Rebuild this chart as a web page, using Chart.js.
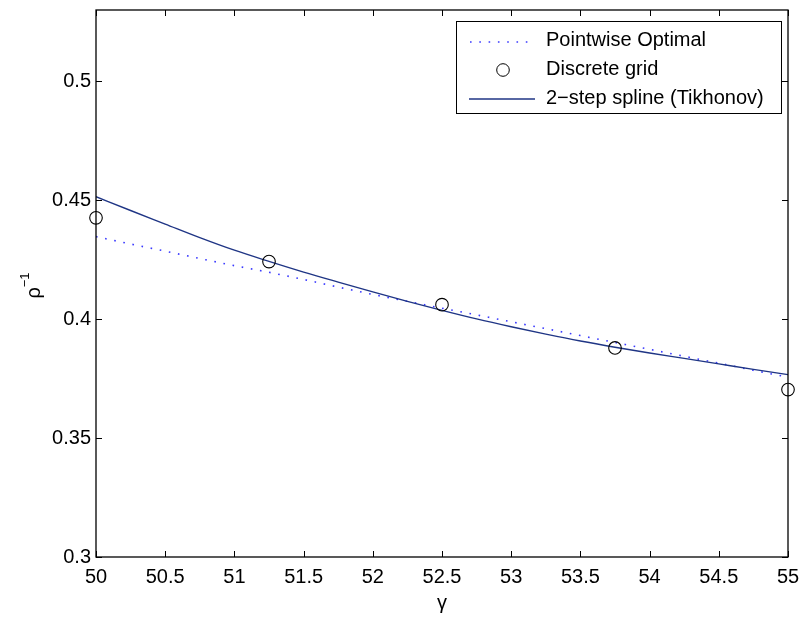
<!DOCTYPE html>
<html>
<head>
<meta charset="utf-8">
<script src="https://cdn.jsdelivr.net/npm/chart.js@4.4.0/dist/chart.umd.min.js"></script>
<style>
  html, body { margin: 0; padding: 0; background: #fff; }
  canvas { display: block; }
</style>
</head>
<body>
<canvas id="chart" width="807" height="617"></canvas>
<script>
// 데이터
var gammaFine = [50, 50.25, 50.5, 50.75, 51, 51.25, 51.5, 51.75, 52, 52.25, 52.5,
                 52.75, 53, 53.25, 53.5, 53.75, 54, 54.25, 54.5, 54.75, 55];
var pointwiseOptimal = [0.4347, 0.4316, 0.4286, 0.4255, 0.4225, 0.4197, 0.4167, 0.4135, 0.4104, 0.4075, 0.4046,
                        0.4018, 0.3989, 0.3960, 0.3931, 0.3902, 0.3873, 0.3844, 0.3815, 0.3785, 0.3756];
var splineTikhonov = [0.4515, 0.4457, 0.4400, 0.4343, 0.4290, 0.4243, 0.4198, 0.4156, 0.4115, 0.4075, 0.4037,
                      0.4001, 0.3968, 0.3937, 0.3908, 0.3882, 0.3858, 0.3835, 0.3812, 0.3789, 0.3767];
var gridGamma = [50, 51.25, 52.5, 53.75, 55];
var gridValues = [0.4426, 0.4242, 0.4061, 0.3879, 0.3704];

var xTicks = [50, 50.5, 51, 51.5, 52, 52.5, 53, 53.5, 54, 54.5, 55];
var xTickLabels = ['50', '50.5', '51', '51.5', '52', '52.5', '53', '53.5', '54', '54.5', '55'];
var yTicks = [0.3, 0.35, 0.4, 0.45, 0.5];
var yTickLabels = ['0.3', '0.35', '0.4', '0.45', '0.5'];

var FONT = '"Liberation Sans", Arial, Helvetica, sans-serif';

function toPoints(xs, ys) {
  return xs.map(function (x, i) { return { x: x, y: ys[i] }; });
}

// 축 테두리, 안쪽 눈금, 축 제목, 범례를 그리는 플러그인
var matlabFrame = {
  id: 'matlabFrame',
  afterDraw: function (chart) {
    var ctx = chart.ctx;
    var a = chart.chartArea;
    var xs = chart.scales.x, ys = chart.scales.y;
    ctx.save();
    ctx.strokeStyle = '#000';
    ctx.lineWidth = 1.3;
    ctx.strokeRect(a.left, a.top, a.right - a.left, a.bottom - a.top);

    // 눈금
    var tl = 6;
    ctx.lineWidth = 1;
    ctx.beginPath();
    xTicks.forEach(function (v) {
      var px = Math.round(xs.getPixelForValue(v)) + 0.5;
      ctx.moveTo(px, a.bottom); ctx.lineTo(px, a.bottom - tl);
      ctx.moveTo(px, a.top); ctx.lineTo(px, a.top + tl);
    });
    yTicks.forEach(function (v) {
      var py = Math.round(ys.getPixelForValue(v)) + 0.5;
      ctx.moveTo(a.left, py); ctx.lineTo(a.left + tl, py);
      ctx.moveTo(a.right, py); ctx.lineTo(a.right - tl, py);
    });
    ctx.stroke();

    // 축 제목
    ctx.fillStyle = '#000';
    ctx.font = '20px ' + FONT;
    ctx.textAlign = 'center';
    ctx.textBaseline = 'middle';
    ctx.fillText('\u03b3', (a.left + a.right) / 2, 603);

    ctx.save();
    ctx.translate(32, (a.top + a.bottom) / 2 + 2);
    ctx.rotate(-Math.PI / 2);
    ctx.textAlign = 'left';
    ctx.font = '20px ' + FONT;
    var w1 = ctx.measureText('\u03c1').width;
    ctx.font = '13px ' + FONT;
    var w2 = ctx.measureText('\u22121').width;
    var sx = -(w1 + w2) / 2;
    ctx.font = '20px ' + FONT;
    ctx.fillText('\u03c1', sx, 2);
    ctx.font = '13px ' + FONT;
    ctx.fillText('\u22121', sx + w1, -7);
    ctx.restore();

    // 범례
    var bx = a.right - 332, by = a.top + 11, bw = 325, bh = 92;
    ctx.fillStyle = '#fff';
    ctx.fillRect(bx, by, bw, bh);
    ctx.lineWidth = 1;
    ctx.strokeStyle = '#000';
    ctx.strokeRect(bx + 0.5, by + 0.5, bw, bh);

    var ds = chart.data.datasets;
    var rows = [by + 19, by + 48, by + 77];
    var textX = bx + 90;
    ctx.font = '20px ' + FONT;
    ctx.textAlign = 'left';
    ctx.textBaseline = 'middle';
    ctx.fillStyle = '#000';

    // Pointwise Optimal
    ctx.save();
    ctx.strokeStyle = ds[0].borderColor;
    ctx.lineWidth = ds[0].borderWidth;
    ctx.setLineDash(ds[0].borderDash);
    ctx.beginPath();
    ctx.moveTo(bx + 14, rows[0] + 2); ctx.lineTo(bx + 76, rows[0] + 2);
    ctx.stroke();
    ctx.restore();
    ctx.fillText(ds[0].label, textX, rows[0]);

    // Discrete grid
    ctx.beginPath();
    ctx.lineWidth = 1;
    ctx.strokeStyle = '#000';
    ctx.arc(bx + 47, rows[1] + 1, 6.3, 0, Math.PI * 2);
    ctx.stroke();
    ctx.fillText(ds[1].label, textX, rows[1]);

    // 2-step spline
    ctx.beginPath();
    ctx.strokeStyle = ds[2].borderColor;
    ctx.lineWidth = ds[2].borderWidth;
    ctx.moveTo(bx + 13, rows[2] + 1); ctx.lineTo(bx + 79, rows[2] + 1);
    ctx.stroke();
    ctx.fillText(ds[2].label, textX, rows[2]);

    ctx.restore();
  }
};

var ctx = document.getElementById('chart').getContext('2d');
new Chart(ctx, {
  type: 'scatter',
  data: {
    datasets: [
      {
        label: 'Pointwise Optimal',
        data: toPoints(gammaFine, pointwiseOptimal),
        showLine: true,
        borderColor: '#3a3aff',
        borderWidth: 1.6,
        borderDash: [1.6, 7.7],
        pointRadius: 0,
        cubicInterpolationMode: 'monotone',
        order: 2
      },
      {
        label: 'Discrete grid',
        data: toPoints(gridGamma, gridValues),
        showLine: false,
        pointStyle: 'circle',
        pointRadius: 6.3,
        pointBorderWidth: 1.1,
        pointBorderColor: '#000',
        pointBackgroundColor: 'rgba(0,0,0,0)',
        clip: false,
        order: 0
      },
      {
        label: '2\u2212step spline (Tikhonov)',
        data: toPoints(gammaFine, splineTikhonov),
        showLine: true,
        borderColor: '#1f3585',
        borderWidth: 1.4,
        pointRadius: 0,
        cubicInterpolationMode: 'monotone',
        order: 1
      }
    ]
  },
  options: {
    responsive: false,
    animation: false,
    devicePixelRatio: 1,
    layout: { padding: { top: 10, right: 19, left: 0, bottom: 0 } },
    plugins: {
      legend: { display: false },
      tooltip: { enabled: false }
    },
    scales: {
      x: {
        type: 'linear',
        min: 50,
        max: 55,
        grid: { display: false, drawTicks: false },
        border: { display: false },
        afterBuildTicks: function (scale) {
          scale.ticks = xTicks.map(function (v) { return { value: v }; });
        },
        afterFit: function (scale) {
          scale.height = 60;
          scale.paddingLeft = 0;
          scale.paddingRight = 0;
        },
        ticks: {
          padding: 8,
          color: '#000',
          font: { size: 20, family: FONT },
          maxRotation: 0,
          autoSkip: false,
          callback: function (value) {
            var i = xTicks.indexOf(value);
            return i >= 0 ? xTickLabels[i] : '';
          }
        }
      },
      y: {
        type: 'linear',
        min: 0.3,
        max: 0.53,
        grid: { display: false, drawTicks: false },
        border: { display: false },
        afterBuildTicks: function (scale) {
          scale.ticks = yTicks.map(function (v) { return { value: v }; });
        },
        afterFit: function (scale) {
          scale.width = 96;
          scale.paddingTop = 0;
          scale.paddingBottom = 0;
        },
        ticks: {
          padding: 5,
          color: '#000',
          font: { size: 20, family: FONT },
          autoSkip: false,
          callback: function (value) {
            var i = yTicks.indexOf(value);
            return i >= 0 ? yTickLabels[i] : '';
          }
        }
      }
    }
  },
  plugins: [matlabFrame]
});
</script>
</body>
</html>
